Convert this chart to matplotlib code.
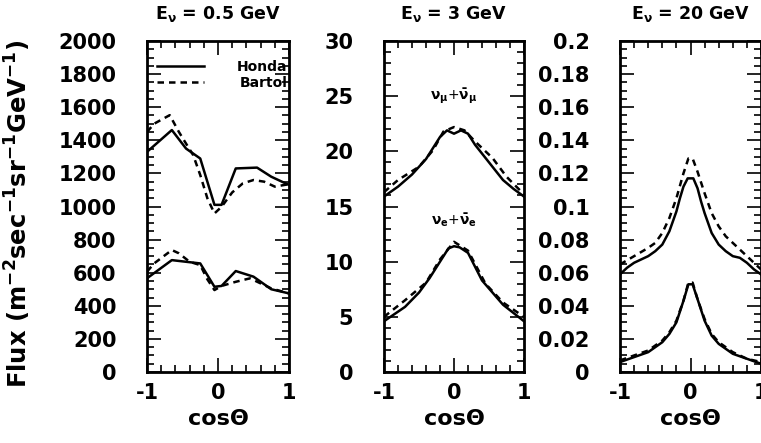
import matplotlib
matplotlib.use("Agg")
import matplotlib.pyplot as plt
from matplotlib.ticker import MultipleLocator, FormatStrFormatter

plt.rcParams["font.family"] = "DejaVu Sans"
plt.rcParams["font.weight"] = "bold"
plt.rcParams["mathtext.default"] = "bf"
plt.rcParams["axes.unicode_minus"] = False

# E = 0.5 GeV, nu_mu + nu_mu-bar (upper) and nu_e + nu_e-bar (lower)
x_h05_mu = [-1, -0.65, -0.45, -0.25, -0.05, 0.05, 0.25, 0.55, 0.75, 1.0]
y_h05_mu = [1330, 1462, 1350, 1290, 1010, 1010, 1230, 1235, 1180, 1130]
x_b05_mu = [-1, -0.9, -0.68, -0.55, -0.45, -0.35, -0.25, -0.15, -0.05, 0.05,
            0.2, 0.35, 0.5, 0.65, 0.8, 1.0]
y_b05_mu = [1450, 1500, 1552, 1450, 1380, 1311, 1190, 1050, 958, 998,
            1085, 1140, 1160, 1150, 1120, 1135]
x_h05_e = [-1, -0.65, -0.45, -0.25, -0.05, 0.05, 0.25, 0.5, 0.75, 1.0]
y_h05_e = [566, 676, 666, 656, 515, 520, 610, 576, 500, 475]
x_b05_e = [-1, -0.9, -0.65, -0.55, -0.4, -0.25, -0.15, -0.05, 0.05, 0.25,
           0.45, 0.75, 1.0]
y_b05_e = [606, 656, 737, 717, 666, 646, 560, 495, 520, 545, 566, 505, 475]

# E = 3 GeV
x_h3_mu = [-1, -0.8, -0.6, -0.4, -0.2, -0.1, 0, 0.1, 0.2, 0.3, 0.5, 0.7, 0.85, 1.0]
y_h3_mu = [15.9, 16.8, 17.9, 19.3, 21.3, 21.9, 21.6, 21.9, 21.6, 20.6, 19.0,
           17.4, 16.6, 15.9]
x_b3_mu = [-1, -0.8, -0.5, -0.3, -0.15, 0, 0.15, 0.3, 0.55, 0.75, 1]
y_b3_mu = [16.3, 17.4, 18.6, 20.1, 21.8, 22.2, 21.9, 20.9, 19.4, 17.7, 16.1]
x_h3_e = [-1, -0.7, -0.5, -0.35, -0.2, -0.08, 0, 0.08, 0.2, 0.4, 0.7, 1]
y_h3_e = [4.6, 5.9, 7.2, 8.5, 10.0, 11.2, 11.4, 11.3, 10.8, 8.3, 6.1, 4.6]
x_b3_e = [-1, -0.7, -0.4, -0.2, 0, 0.2, 0.45, 0.7, 1]
y_b3_e = [5.0, 6.5, 8.1, 10.2, 11.8, 11.0, 8.0, 6.3, 5.0]

# E = 20 GeV
x_h20_mu = [-1, -0.9, -0.8, -0.7, -0.6, -0.5, -0.4, -0.3, -0.2, -0.15, -0.1,
            -0.04, 0.04, 0.1, 0.15, 0.2, 0.3, 0.4, 0.5, 0.6, 0.7, 0.8, 0.9, 1]
y_h20_mu = [0.059, 0.063, 0.066, 0.068, 0.070, 0.073, 0.077, 0.085, 0.097,
            0.105, 0.112, 0.117, 0.117, 0.111, 0.103, 0.096, 0.084, 0.077,
            0.073, 0.070, 0.069, 0.066, 0.062, 0.059]
x_b20_mu = [-1, -0.8, -0.6, -0.5, -0.4, -0.3, -0.2, -0.1, -0.03, 0.03, 0.1,
            0.2, 0.3, 0.4, 0.5, 0.65, 0.8, 1]
y_b20_mu = [0.065, 0.070, 0.075, 0.078, 0.084, 0.093, 0.105, 0.120, 0.129,
            0.129, 0.121, 0.108, 0.096, 0.088, 0.082, 0.076, 0.070, 0.062]
x_20_e = [-1, -0.8, -0.6, -0.4, -0.3, -0.2, -0.1, -0.03, 0.03, 0.1, 0.2, 0.3,
          0.4, 0.6, 0.8, 1]
y_h20_e = [0.006, 0.009, 0.012, 0.018, 0.023, 0.030, 0.043, 0.053, 0.053,
           0.044, 0.031, 0.022, 0.017, 0.011, 0.008, 0.005]
y_b20_e = [0.007, 0.010, 0.013, 0.019, 0.024, 0.031, 0.043, 0.054, 0.054,
           0.044, 0.032, 0.023, 0.018, 0.012, 0.008, 0.006]

titles = [r"E$_{\nu}$ = 0.5 GeV", r"E$_{\nu}$ = 3 GeV", r"E$_{\nu}$ = 20 GeV"]
ylims = [2000, 30, 0.2]
ymajor = [200, 5, 0.02]
yminor = [50, 1, 0.005]
yfmt = ["%d", "%d", "%g"]

W, H = 761, 443
fig = plt.figure(figsize=(W / 100, H / 100), dpi=100)
lefts = [147, 384, 620]
widths = [142, 140, 141]
top, bottom = 41, 372

solid = dict(color="black", lw=1.8, ls="-")
dashed = dict(color="black", lw=1.8, ls=(0, (2.6, 2.0)))

axes = []
for i in range(3):
    ax = fig.add_axes([lefts[i] / W, 1 - bottom / H, widths[i] / W, (bottom - top) / H])
    ax.set_xlim(-1, 1)
    ax.set_ylim(0, ylims[i])
    ax.xaxis.set_major_locator(MultipleLocator(1))
    ax.xaxis.set_minor_locator(MultipleLocator(0.2))
    ax.yaxis.set_major_locator(MultipleLocator(ymajor[i]))
    ax.yaxis.set_minor_locator(MultipleLocator(yminor[i]))
    ax.yaxis.set_major_formatter(FormatStrFormatter(yfmt[i]))
    ax.tick_params(which="both", direction="in", top=True, right=True, width=1.2)
    ax.tick_params(which="major", length=10, labelsize=15, pad=8)
    ax.tick_params(axis="y", which="major", pad=22)
    ax.tick_params(which="minor", length=5)
    for sp in ax.spines.values():
        sp.set_linewidth(2)
    ax.set_xlabel("cosΘ", fontsize=16, fontweight="bold", labelpad=4)
    fig.text((lefts[i] + widths[i] / 2) / W, 1 - 14 / H, titles[i],
             ha="center", va="center", fontsize=12.5, fontweight="bold")
    axes.append(ax)

ax1, ax2, ax3 = axes

ax1.plot(x_h05_mu, y_h05_mu, **solid)
ax1.plot(x_b05_mu, y_b05_mu, **dashed)
ax1.plot(x_h05_e, y_h05_e, **solid)
ax1.plot(x_b05_e, y_b05_e, **dashed)

# legend drawn by hand in the top-left corner
ax1.plot([-0.86, -0.2], [1850, 1850], **solid)
ax1.plot([-0.86, -0.2], [1750, 1750], **dashed)
ax1.text(0.98, 1845, "Honda", ha="right", va="center", fontsize=10)
ax1.text(0.98, 1745, "Bartol", ha="right", va="center", fontsize=10)

ax2.plot(x_h3_mu, y_h3_mu, **solid)
ax2.plot(x_b3_mu, y_b3_mu, **dashed)
ax2.plot(x_h3_e, y_h3_e, **solid)
ax2.plot(x_b3_e, y_b3_e, **dashed)
ax2.text(0.0, 25.0, r"$\nu_{\mu}$+$\bar{\nu}_{\mu}$", ha="center", va="center",
         fontsize=10, fontweight="normal")
ax2.text(0.0, 13.8, r"$\nu_{e}$+$\bar{\nu}_{e}$", ha="center", va="center",
         fontsize=10, fontweight="normal")

ax3.plot(x_h20_mu, y_h20_mu, **solid)
ax3.plot(x_b20_mu, y_b20_mu, **dashed)
ax3.plot(x_20_e, y_h20_e, **solid)
ax3.plot(x_20_e, y_b20_e, **dashed)

fig.text(18 / W, 1 - 214 / H,
         r"Flux (m$^{-2}$sec$^{-1}$sr$^{-1}$GeV$^{-1}$)",
         rotation=90, ha="center", va="center", fontsize=17.5, fontweight="bold")

fig.savefig("out.png", dpi=100)
